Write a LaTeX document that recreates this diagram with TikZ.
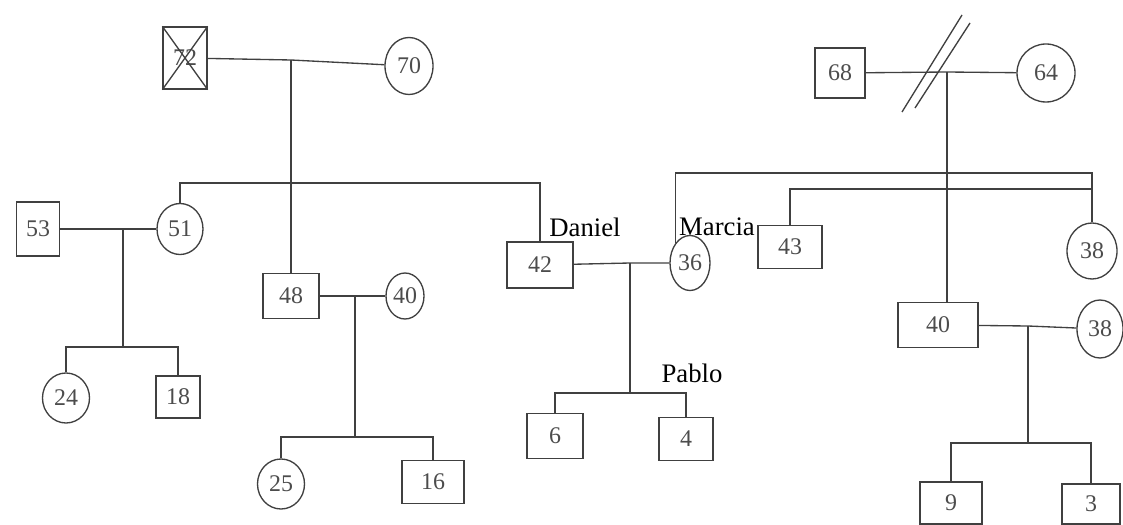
\documentclass[tikz,border=0pt]{standalone}
\usepackage{fontspec}
\setmainfont{Liberation Serif}
\usetikzlibrary{shapes.geometric}

\begin{document}
\begin{tikzpicture}[x=0.025cm,y=-0.025cm,color=black!75,line width=0.95pt,
    male/.style={draw, rectangle, inner sep=0pt, text=black!70, font=\fontsize{17}{19}\selectfont},
    female/.style={draw, ellipse, inner sep=0pt, text=black!70, font=\fontsize{17}{19}\selectfont},
    tag/.style={text=black, font=\fontsize{19}{22}\selectfont}]
    \useasboundingbox (0,0) rectangle (1123,525);
    % left grandparents
    \node[male, minimum width=1.1cm, minimum height=1.55cm] (gpa) at (185,58) {72};
    \draw (gpa.north west) -- (gpa.south east) (gpa.north east) -- (gpa.south west);
    \node[female, minimum width=1.2cm, minimum height=1.425cm] (gma) at (409,66) {70};
    % second generation
    \node[male, minimum width=1.075cm, minimum height=1.35cm] (h53) at (38,229) {53};
    \node[female, minimum width=1.15cm, minimum height=1.275cm] (w51) at (180,229) {51};
    \node[male, minimum width=1.4cm, minimum height=1.125cm] (m48) at (291,296) {48};
    \node[female, minimum width=0.95cm, minimum height=1.15cm] (w40) at (405,296) {40};
    \node[male, minimum width=1.65cm, minimum height=1.15cm] (daniel) at (540,265) {42};
    \node[female, minimum width=1.0cm, minimum height=1.375cm] (marcia) at (690,263) {36};
    \node[tag] (lbldaniel) at (585,227) {Daniel};
    \node[tag] (lblmarcia) at (717,227) {Marcia};
    % third generation, left
    \node[female, minimum width=1.175cm, minimum height=1.25cm] (g24) at (66,398) {24};
    \node[male, minimum width=1.1cm, minimum height=1.05cm] (b18) at (178,397) {18};
    \node[female, minimum width=1.175cm, minimum height=1.25cm] (g25) at (281,484) {25};
    \node[male, minimum width=1.55cm, minimum height=1.075cm] (b16) at (433,482) {16};
    \node[male, minimum width=1.4cm, minimum height=1.125cm] (b6) at (555,436) {6};
    \node[male, minimum width=1.35cm, minimum height=1.075cm] (b4) at (686,439) {4};
    \node[tag] (lblpablo) at (692,373) {Pablo};
    % right grandparents and children
    \node[male, minimum width=1.25cm, minimum height=1.25cm] (gpa2) at (840,73) {68};
    \node[female, minimum width=1.45cm, minimum height=1.45cm] (gma2) at (1046,73) {64};
    \node[male, minimum width=1.6cm, minimum height=1.075cm] (b43) at (790,247) {43};
    \node[female, minimum width=1.25cm, minimum height=1.4cm] (g38) at (1092,251) {38};
    \node[male, minimum width=2.0cm, minimum height=1.125cm] (b40) at (938,325) {40};
    \node[female, minimum width=1.15cm, minimum height=1.45cm] (g38b) at (1100,329) {38};
    \node[male, minimum width=1.55cm, minimum height=1.05cm] (b9) at (951,503) {9};
    \node[male, minimum width=1.45cm, minimum height=1.0cm] (b3) at (1091,504) {3};

    % connectors, left family
    \coordinate (cp1) at (291,60);
    \coordinate (sib1) at (291,183);
    \draw (gpa) -- (cp1) -- (gma);
    \draw (cp1) -- (m48);
    \draw (w51) |- (sib1) -| (daniel);
    \coordinate (cp2) at (123,229);
    \coordinate (k1) at (123,347);
    \draw (h53) -- (cp2) -- (w51);
    \draw (cp2) -- (k1);
    \draw (g24) |- (k1) -| (b18);
    \coordinate (cp3) at (355,296);
    \coordinate (k2) at (355,437);
    \draw (m48) -- (cp3) -- (w40);
    \draw (cp3) -- (k2);
    \draw (g25) |- (k2) -| (b16);
    \coordinate (cp4) at (630,263);
    \coordinate (k3) at (630,393);
    \draw (daniel) -- (cp4) -- (marcia);
    \draw (cp4) -- (k3);
    \draw (b6) |- (k3) -| (b4);

    % connectors, right family
    \coordinate (cp5) at (947,72);
    \draw (gpa2) -- (cp5) -- (gma2);
    \draw ([shift={(-45,40)}]cp5) -- ([shift={(15,-57)}]cp5);
    \draw ([shift={(-32,36)}]cp5) -- ([shift={(23,-49)}]cp5);
    \draw (cp5) -- (cp5 |- b40.north);
    \coordinate (sib2) at (947,173);
    \coordinate (sib3) at (947,189);
    \draw (marcia.127) |- (sib2) -| (g38);
    \draw (b43) |- (sib3) -| (g38);
    \coordinate (cp6) at (1028,326);
    \coordinate (k4) at (1028,443);
    \draw (b40) -- (cp6) -- (g38b);
    \draw (cp6) -- (k4);
    \draw (b9) |- (k4) -| (b3);
\end{tikzpicture}
\end{document}
